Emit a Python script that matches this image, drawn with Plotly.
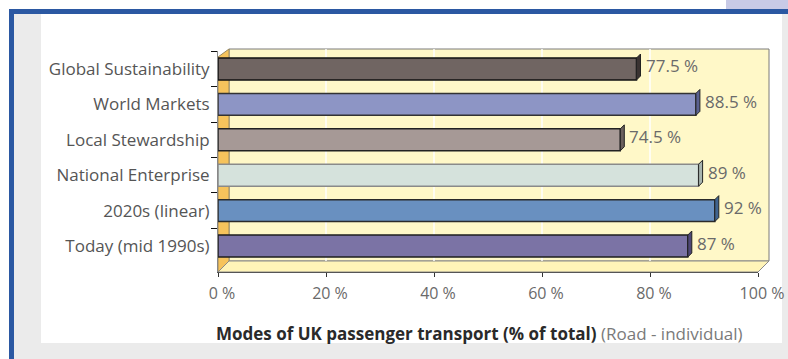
import plotly.graph_objects as go

categories = ["Global Sustainability", "World Markets", "Local Stewardship",
              "National Enterprise", "2020s (linear)", "Today (mid 1990s)"]
values = [77.5, 88.5, 74.5, 89, 92, 87]
bar_colors = ["#706562", "#8d95c5", "#a69996", "#d5e2dc", "#6990c0", "#7b73a5"]
cap_colors = ["#3a3332", "#5a6190", "#6a605d", "#a9b5b0", "#40648f", "#4e4776"]
line_colors = ["#111111", "#333333", "#222222", "#8a8a8a", "#2a2a2a", "#1e1e1e"]
tick_vals = [0, 20, 40, 60, 80, 100]
tick_text = ["0 %", "20 %", "40 %", "60 %", "80 %", "100 %"]

W, H = 788, 359
FONT = "Open Sans"
X0, X1 = 218, 758          # front x-axis pixel extent
Y_TOP, Y_BOT = 51, 272     # y-axis pixel extent
PX_PER_CAT = 35.4
BAR_W = 0.62


def px(x):
    return x / W


def py(y):
    return 1 - y / H


fig = go.Figure()
fig.add_trace(go.Bar(
    x=values, y=categories, orientation="h", width=BAR_W,
    marker=dict(color=bar_colors, line=dict(color=line_colors, width=1.5)),
    hoverinfo="skip", showlegend=False,
))

shapes = []
# page decoration
shapes.append(dict(type="rect", xref="paper", yref="paper", x0=px(726), x1=px(788), y0=py(9), y1=py(0),
                   fillcolor="#c8cae6", line=dict(width=0), layer="below"))
shapes.append(dict(type="rect", xref="paper", yref="paper", x0=px(14), x1=px(41), y0=py(359), y1=py(13),
                   fillcolor="#ebebeb", line=dict(width=0), layer="below"))
shapes.append(dict(type="rect", xref="paper", yref="paper", x0=px(14), x1=px(788), y0=py(359), y1=py(343),
                   fillcolor="#ebebeb", line=dict(width=0), layer="below"))
shapes.append(dict(type="rect", xref="paper", yref="paper", x0=px(782), x1=px(788), y0=py(343), y1=py(13),
                   fillcolor="#ebebeb", line=dict(width=0), layer="below"))
shapes.append(dict(type="rect", xref="paper", yref="paper", x0=px(9), x1=px(788), y0=py(14), y1=py(9),
                   fillcolor="#2b58a2", line=dict(width=0), layer="below"))
shapes.append(dict(type="rect", xref="paper", yref="paper", x0=px(9), x1=px(14), y0=py(359), y1=py(9),
                   fillcolor="#2b58a2", line=dict(width=0), layer="below"))

# 3D box: back wall, left wall, floor
shapes.append(dict(type="rect", xref="paper", yref="paper", x0=px(229), x1=px(769), y0=py(261), y1=py(49),
                   fillcolor="#fff8c8", line=dict(color="#7a7a7a", width=1), layer="below"))
shapes.append(dict(type="path", xref="paper", yref="paper",
                   path=f"M {px(218)} {py(57)} L {px(229)} {py(49)} L {px(229)} {py(261)} L {px(218)} {py(272)} Z",
                   fillcolor="#f6c35c", line=dict(color="#9a8a60", width=1), layer="below"))
shapes.append(dict(type="path", xref="paper", yref="paper",
                   path=f"M {px(218)} {py(272)} L {px(229)} {py(261)} L {px(769)} {py(261)} L {px(758)} {py(272)} Z",
                   fillcolor="#fff4b8", line=dict(color="#8a8a8a", width=1), layer="below"))
# gridlines on back wall
for v in tick_vals[1:-1]:
    shapes.append(dict(type="line", xref="x", yref="paper", x0=v, x1=v, y0=py(261), y1=py(49),
                       line=dict(color="#ffffff", width=1.5), layer="below"))

# small 3D end caps on each bar
dx = 4 * 100 / (X1 - X0)
dy = 4 / PX_PER_CAT
for i, (v, cc) in enumerate(zip(values, cap_colors)):
    top, bot = i - BAR_W / 2, i + BAR_W / 2
    shapes.append(dict(type="path", xref="x", yref="y",
                       path=f"M {v} {top} L {v + dx} {top - dy} L {v + dx} {bot - dy} L {v} {bot} Z",
                       fillcolor=cc, line=dict(color="#222222", width=1), layer="above"))

annotations = []
for c, v in zip(categories, values):
    annotations.append(dict(x=v, y=c, xref="x", yref="y", text=f"{v:g} %", showarrow=False,
                            xanchor="left", yanchor="middle", xshift=7, yshift=3,
                            font=dict(family=FONT, size=17, color="#6a6a6a")))
annotations.append(dict(
    xref="paper", yref="paper", x=px(214), y=py(333), xanchor="left", yanchor="middle", showarrow=False,
    text="<b>Modes of UK passenger transport (% of total)</b> <span style='color:#7a7a7a'>(Road - individual)</span>",
    font=dict(family=FONT, size=17, color="#2a2a2a")))

fig.update_layout(
    width=W, height=H, margin=dict(l=0, r=0, t=0, b=0, autoexpand=False),
    paper_bgcolor="#ffffff", plot_bgcolor="rgba(0,0,0,0)",
    shapes=shapes, annotations=annotations,
    xaxis=dict(domain=[px(X0), px(X1)], range=[0, 100], tickvals=tick_vals, ticktext=tick_text,
               showgrid=False, zeroline=False, showline=True, linecolor="#555555", linewidth=1,
               ticks="outside", ticklen=4, tickcolor="#333333", ticklabelshift=4, ticklabelstandoff=3,
               ticklabeloverflow="allow", automargin=False,
               tickfont=dict(family=FONT, size=16, color="#6a6a6a"), fixedrange=True),
    yaxis=dict(domain=[py(Y_BOT), py(Y_TOP)], type="category", categoryorder="array", categoryarray=categories,
               range=[5 + (Y_BOT - 246) / PX_PER_CAT, -(69 - Y_TOP) / PX_PER_CAT],
               showgrid=False, zeroline=False, showline=True, linecolor="#888888", linewidth=1,
               ticks="outside", tickson="boundaries", ticklen=6, tickcolor="#111111", ticklabelstandoff=4,
               automargin=False,
               tickfont=dict(family=FONT, size=17, color="#555555"), fixedrange=True),
)

fig.write_html("out.html")
